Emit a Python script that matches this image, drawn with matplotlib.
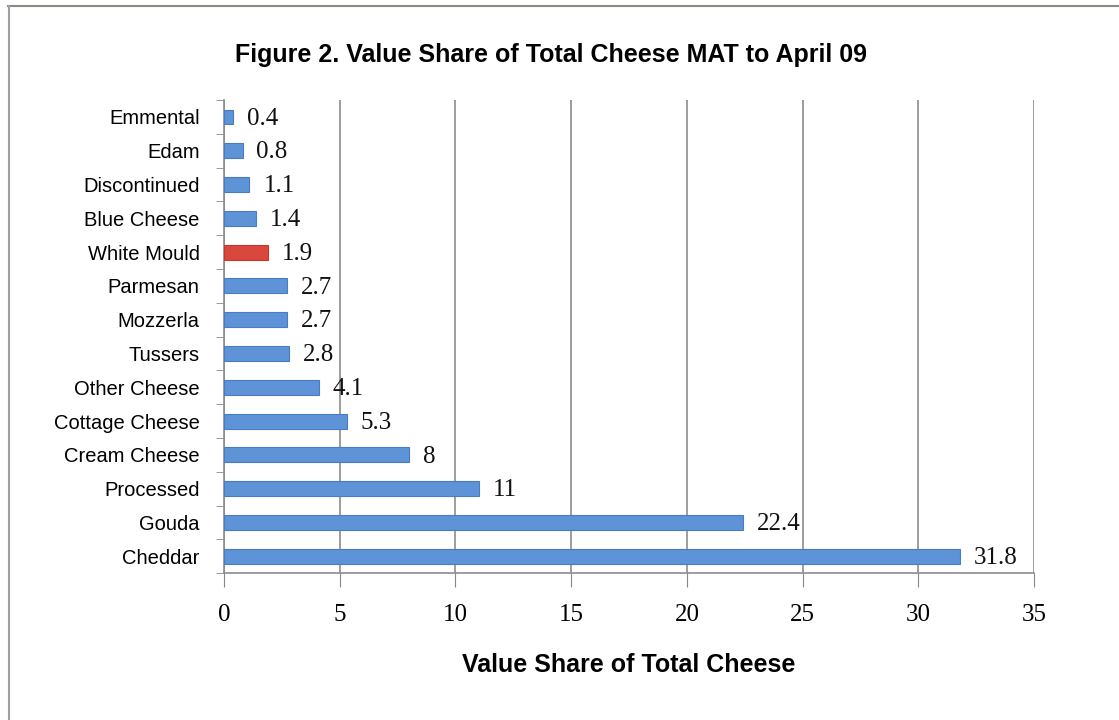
import matplotlib
matplotlib.use("Agg")
import matplotlib.pyplot as plt
from matplotlib.lines import Line2D
import numpy as np

categories = ["Cheddar", "Gouda", "Processed", "Cream Cheese", "Cottage Cheese",
              "Other Cheese", "Tussers", "Mozzerla", "Parmesan", "White Mould",
              "Blue Cheese", "Discontinued", "Edam", "Emmental"]
values = [31.8, 22.4, 11, 8, 5.3, 4.1, 2.8, 2.7, 2.7, 1.9, 1.4, 1.1, 0.8, 0.4]
labels = ["31.8", "22.4", "11", "8", "5.3", "4.1", "2.8", "2.7", "2.7", "1.9",
          "1.4", "1.1", "0.8", "0.4"]
highlight = "White Mould"
xticks = [0, 5, 10, 15, 20, 25, 30, 35]

fig = plt.figure(figsize=(11.19, 7.2), dpi=100)
ax = fig.add_axes([0.2002, 0.204, 0.724, 0.657])

y = np.arange(len(categories))
colors = ["#d9483a" if c == highlight else "#5f93d8" for c in categories]
edges = ["#c03a2e" if c == highlight else "#4a7cc4" for c in categories]
ax.barh(y, values, height=0.44, color=colors, edgecolor=edges, linewidth=0.8, zorder=3)

for yi, v, lab in zip(y, values, labels):
    ax.text(v + 0.6, yi - 0.05, lab, va="center", ha="left", fontsize=18,
            family="Liberation Serif", color="#111111")

ax.set_xlim(0, 35)
ax.set_ylim(-0.45, len(categories) - 0.55)
ax.set_xticks(xticks)
ax.set_xticklabels([str(t) for t in xticks], family="Liberation Serif", fontsize=18)
ax.set_yticks(y)
ax.set_yticklabels(categories, family="Liberation Sans", fontsize=14.5)
ax.set_yticks(np.arange(len(categories) + 1) - 0.5, minor=True)
ax.tick_params(axis="y", which="major", length=0, pad=17.5)
ax.tick_params(axis="y", which="minor", length=6, color="#888888", direction="out")
ax.tick_params(axis="x", which="major", length=10, color="#888888", pad=12)

ax.grid(axis="x", color="#8c8c8c", linewidth=1.2, zorder=0)
for s in ["top", "right"]:
    ax.spines[s].set_visible(False)
for s in ["left", "bottom"]:
    ax.spines[s].set_color("#8c8c8c")
    ax.spines[s].set_linewidth(1.2)

ax.set_xlabel("Value Share of Total Cheese", family="Liberation Sans",
              fontsize=18, fontweight="bold", labelpad=20)
fig.text(0.492, 0.923, "Figure 2. Value Share of Total Cheese MAT to April 09",
         ha="center", va="center", family="Liberation Sans", fontsize=18,
         fontweight="bold")

# outer frame
fig.add_artist(Line2D([8/1119, 1], [1 - 6/720, 1 - 6/720], color="#8a8a80", lw=1.5))
fig.add_artist(Line2D([8.5/1119, 8.5/1119], [0, 1 - 6/720], color="#a0a0a0", lw=1.5))

fig.savefig("out.png", dpi=100)
